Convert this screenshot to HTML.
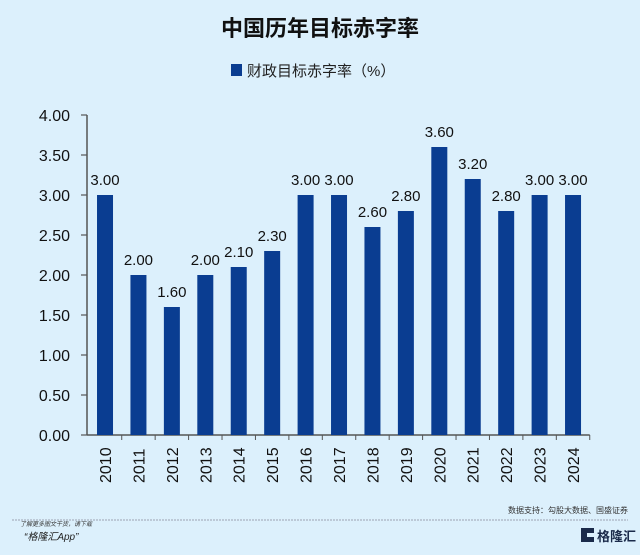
<!DOCTYPE html>
<html><head><meta charset="utf-8"><style>
body{margin:0;width:640px;height:550px;background:#dcf0fc;overflow:hidden;font-family:"Liberation Sans","Noto Sans CJK SC",sans-serif}
</style></head><body>
<svg width="640" height="550" xmlns="http://www.w3.org/2000/svg">
<rect width="640" height="550" fill="#dcf0fc"/>
<text x="320" y="36" text-anchor="middle" font-size="22" font-weight="bold" fill="#111" font-family="Liberation Sans,Noto Sans CJK SC,sans-serif">中国历年目标赤字率</text>
<g>
<rect x="231" y="64" width="11" height="12" fill="#0a3d91"/>
<text x="247" y="76" font-size="15" fill="#222" font-family="Liberation Sans,Noto Sans CJK SC,sans-serif">财政目标赤字率（%）</text>
</g>
<g id="plot"></g>
<line x1="12" y1="520" x2="628" y2="520" stroke="#889" stroke-dasharray="2,1" stroke-width="0.8"/>
<text x="628" y="513" text-anchor="end" font-size="8" fill="#333" font-family="Liberation Sans,Noto Sans CJK SC,sans-serif">数据支持：勾股大数据、国盛证券</text>
<text x="20" y="526" font-size="6" font-style="italic" fill="#333" font-family="Liberation Sans,Noto Sans CJK SC,sans-serif">了解更多图文干货，请下载</text>
<text x="24" y="540" font-size="10" font-style="italic" fill="#222" font-family="Liberation Sans,Noto Sans CJK SC,sans-serif">“格隆汇App”</text>
<g>
<rect x="581" y="528" width="13" height="14" fill="#1a2a4a"/>
<rect x="587" y="533" width="7" height="4" fill="#dcf0fc"/>
<text x="597" y="541" font-size="13" font-weight="bold" fill="#1a2a4a" font-family="Liberation Sans,Noto Sans CJK SC,sans-serif">格隆汇</text>
</g>
</svg>
<script>
const years=["2010","2011","2012","2013","2014","2015","2016","2017","2018","2019","2020","2021","2022","2023","2024"];
const values=[3.00,2.00,1.60,2.00,2.10,2.30,3.00,3.00,2.60,2.80,3.60,3.20,2.80,3.00,3.00];
const yTicks=[0,0.5,1,1.5,2,2.5,3,3.5,4];
const NS="http://www.w3.org/2000/svg";
const g=document.getElementById('plot');
const x0=88.3,step=33.43,y0=435,ppu=80,bw=16;
const xs=i=>x0+step*(i+0.5);
const ys=v=>y0-v*ppu;
function mk(t,a){const e=document.createElementNS(NS,t);for(const k in a)e.setAttribute(k,a[k]);g.appendChild(e);return e;}
const ax=mk('line',{x1:87,y1:ys(4),x2:87,y2:y0,stroke:'#555','stroke-width':1.5});


const bx=mk('line',{x1:87,y1:y0,x2:x0+step*years.length,y2:y0,stroke:'#555','stroke-width':1.5});


yTicks.forEach(v=>{
 const t=mk('line',{x1:81,y1:ys(v),x2:87,y2:ys(v),stroke:'#555','stroke-width':1.2});
 
 
 const l=mk('text',{x:70,y:ys(v)+6,'text-anchor':'end','font-size':16,fill:'#111','font-family':'Liberation Sans,sans-serif'});
 l.textContent=v.toFixed(2);
 
 
});
years.forEach((yr,i)=>{
 const cx=xs(i);
 const tk=mk('line',{x1:x0+step*(i+1),y1:y0,x2:x0+step*(i+1),y2:y0+5,stroke:'#555','stroke-width':1});
 
 
 const b=mk('rect',{x:cx-bw/2,y:ys(values[i]),width:bw,height:values[i]*ppu,fill:'#0a3d91'});
 
 
 const v=mk('text',{x:cx,y:ys(values[i])-10,'text-anchor':'middle','font-size':15,fill:'#111','font-family':'Liberation Sans,sans-serif'});
 v.textContent=values[i].toFixed(2);
 
 
 const xl=mk('text',{transform:`translate(${cx+6},483) rotate(-90)`,'font-size':16,fill:'#111','font-family':'Liberation Sans,sans-serif'});
 xl.textContent=yr;
 
 
});
</script>
</body></html>
